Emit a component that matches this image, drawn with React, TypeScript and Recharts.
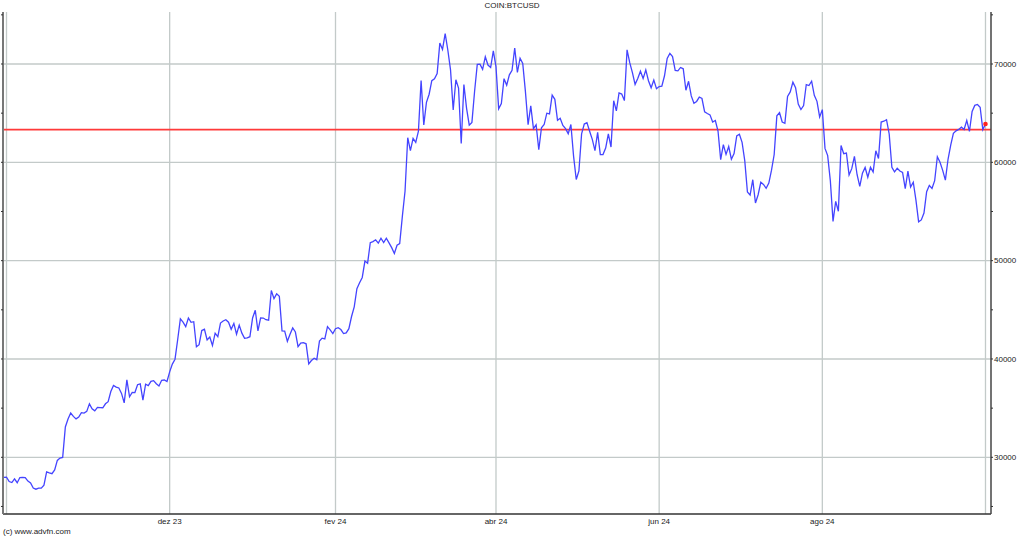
import { LineChart, Line, XAxis, YAxis, CartesianGrid, ReferenceLine } from 'recharts'

// daily BTC/USD closes, one array per month (day index 0 = 1 Oct 2023)
const sep23 = [27950]
const oct23 = [27983, 27531, 27430, 27800, 27416, 27946, 27968, 27936, 27584, 27392, 26873, 26757, 26862, 26861, 27160, 28520, 28415, 28329, 28720, 29683, 29919, 29993, 33087, 33901, 34502, 34157, 33910, 34089, 34538, 34502, 34667]
const nov23 = [35437, 34938, 34732, 35082, 35049, 35038, 35443, 35655, 36693, 37313, 37139, 37055, 36502, 35537, 37880, 36155, 36596, 36585, 37386, 37476, 35813, 37432, 37289, 37720, 37796, 37480, 37254, 37831, 37858, 37712]
const dec23 = [38688, 39476, 39978, 41980, 44080, 43746, 43292, 44167, 43726, 43789, 41243, 41450, 42890, 43023, 41929, 42240, 41364, 42623, 42270, 43652, 43869, 43997, 43740, 43017, 43613, 42520, 43442, 42627, 42099, 42156, 42266]
const jan24 = [44168, 44957, 42848, 44179, 44162, 43989, 43943, 46970, 46139, 46627, 46368, 42853, 42842, 41796, 42511, 43154, 42742, 41262, 41618, 41665, 41545, 39507, 39845, 40077, 39934, 41816, 42120, 42035, 43288, 42952, 42582]
const feb24 = [43075, 43185, 42992, 42583, 42658, 43084, 44318, 45302, 47148, 47751, 48293, 49958, 49743, 51826, 51939, 52122, 51780, 52284, 51839, 52284, 51801, 51320, 50731, 51572, 51733, 54522, 57085, 62504, 61198]
const mar24 = [62440, 62029, 63167, 68330, 63801, 66106, 66925, 68300, 68498, 69019, 72123, 71482, 73083, 71397, 69403, 65316, 68391, 67548, 61912, 67913, 65492, 63779, 64062, 67234, 69958, 69987, 69455, 70744, 69892, 69645, 71333]
const apr24 = [69702, 65446, 65980, 68508, 67837, 68896, 69362, 71631, 69139, 70587, 70061, 67195, 63822, 65739, 63426, 63811, 61277, 63512, 63843, 64994, 64927, 66838, 66408, 64276, 64481, 63756, 63420, 62913, 63841, 60636]
const may24 = [58254, 59123, 62889, 63892, 64032, 63162, 62334, 61188, 63049, 60793, 60794, 61448, 62901, 61553, 66267, 65231, 67051, 66940, 66278, 71448, 70137, 69122, 67929, 68527, 69266, 68518, 69394, 68296, 67578, 68364, 67491]
const jun24 = [67706, 67751, 68804, 70567, 71082, 70757, 69342, 69305, 69647, 69512, 67332, 68241, 66756, 66011, 66191, 66639, 66490, 65140, 64960, 64828, 64096, 64253, 63180, 60277, 61804, 60811, 61604, 60320, 60887, 62678]
const jul24 = [62851, 62029, 60173, 56977, 56662, 58230, 55858, 56705, 57974, 57746, 57356, 57889, 59204, 60797, 64725, 65047, 64100, 63975, 66709, 67163, 68155, 67586, 65928, 65372, 65778, 67912, 67813, 68255, 66820, 66201, 64620]
const aug24 = [65357, 61415, 60680, 58116, 53991, 56034, 55027, 61710, 60880, 60945, 58719, 59354, 60609, 58737, 57560, 58894, 59478, 58483, 59493, 59012, 61175, 60381, 64094, 64178, 64333, 62880, 59504, 59027, 59388, 59119, 58969]
const sep24 = [57326, 59113, 57485, 57972, 56161, 53949, 54140, 54842, 57020, 57650, 57343, 58128, 60571, 60005, 59183, 58193, 60309, 61760, 62948, 63199, 63349, 63579, 63339, 64262, 63143, 65182, 65790, 65888, 65603, 63330]
const oct24 = [63900]

const prevClose = 63330

const monthTicks = [61, 123, 183, 244, 305]
const monthLabels = ['dez 23', 'fev 24', 'abr 24', 'jun 24', 'ago 24']
const gridDays = [0, 61, 123, 183, 244, 305, 366]
const priceTicks = [25000, 30000, 35000, 40000, 45000, 50000, 55000, 60000, 65000, 70000, 75000]
const gridPrices = [30000, 40000, 50000, 60000, 70000]

const prices = [
  ...sep23, ...oct23, ...nov23, ...dec23, ...jan24, ...feb24, ...mar24,
  ...apr24, ...may24, ...jun24, ...jul24, ...aug24, ...sep24, ...oct24
]
const data = prices.map((price, i) => ({ day: i - 1, price }))

const xDomain = [-1.31, 368.06]
const yDomain = [24234, 75288]
const font = '"Liberation Sans", Arial, sans-serif'

const lastDot = (p: any) =>
  p.index === data.length - 1 ? (
    <circle key="last" cx={p.cx} cy={p.cy} r={2.3} fill="#ff2020" />
  ) : (
    <g key={p.index} />
  )

export default function App() {
  return (
    <div style={{ position: 'absolute', left: 0, top: 0, width: 1024, height: 538, background: '#fff', fontFamily: font }}>
      <div style={{ position: 'absolute', top: 1, left: 0, width: 1024, textAlign: 'center', fontSize: 8, color: '#222' }}>
        COIN:BTCUSD
      </div>
      <LineChart width={1024} height={538} data={data} margin={{ top: 12, right: 0, bottom: 0, left: 0 }}>
        <CartesianGrid
          horizontalValues={gridPrices}
          verticalValues={gridDays}
          stroke="#c3cac9"
          strokeWidth={1.3}
        />
        <XAxis
          dataKey="day"
          type="number"
          domain={xDomain}
          allowDataOverflow
          ticks={monthTicks}
          tickFormatter={(v: number) => monthLabels[monthTicks.indexOf(v)] ?? ''}
          height={24}
          tickSize={0}
          tickMargin={4}
          axisLine={{ stroke: '#333', strokeWidth: 1.5 }}
          tick={{ fontSize: 8, fill: '#222', fontFamily: font }}
        />
        <XAxis
          xAxisId="top"
          orientation="top"
          type="number"
          domain={xDomain}
          allowDataOverflow
          height={0}
          tick={false}
          tickLine={false}
          axisLine={{ stroke: '#333', strokeWidth: 1.5 }}
        />
        <YAxis
          yAxisId="left"
          orientation="left"
          type="number"
          domain={yDomain}
          allowDataOverflow
          ticks={priceTicks}
          width={3}
          tickSize={2}
          tickFormatter={() => ''}
          axisLine={{ stroke: '#777', strokeWidth: 2 }}
          tickLine={{ stroke: '#333' }}
        />
        <YAxis
          orientation="right"
          type="number"
          domain={yDomain}
          allowDataOverflow
          ticks={priceTicks}
          width={33}
          tickSize={2}
          tickMargin={1}
          tickFormatter={(v: number) => (v % 10000 === 0 ? String(v) : '')}
          axisLine={{ stroke: '#444', strokeWidth: 1.5 }}
          tickLine={{ stroke: '#333' }}
          tick={{ fontSize: 8, fill: '#222', fontFamily: font }}
        />
        <ReferenceLine y={prevClose} stroke="#ff3a3a" strokeWidth={1.6} />
        <Line
          type="linear"
          dataKey="price"
          stroke="#4444ff"
          strokeWidth={1.3}
          dot={lastDot}
          activeDot={false}
          isAnimationActive={false}
        />
      </LineChart>
      <div style={{ position: 'absolute', top: 527, left: 3, fontSize: 8, color: '#222' }}>
        (c) www.advfn.com
      </div>
    </div>
  )
}
